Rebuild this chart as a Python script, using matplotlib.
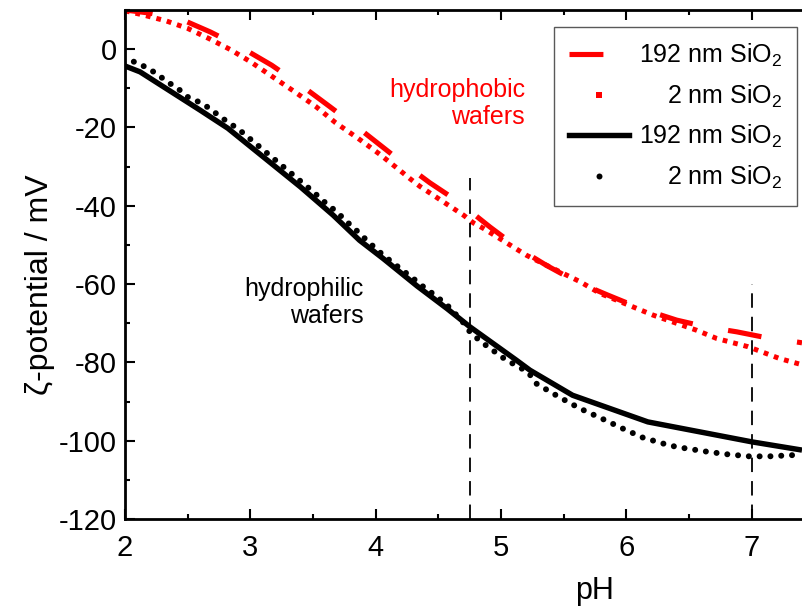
import matplotlib
matplotlib.use("Agg")
import matplotlib.pyplot as plt
from matplotlib.lines import Line2D
from matplotlib.ticker import MultipleLocator

plt.rcParams["font.family"] = ["Liberation Sans", "DejaVu Sans"]
plt.rcParams["mathtext.fontset"] = "custom"
plt.rcParams["mathtext.rm"] = "Liberation Sans"
plt.rcParams["mathtext.it"] = "Liberation Sans:italic"
plt.rcParams["axes.unicode_minus"] = False

# hydrophobic wafers (red)
ph_phob_192 = [2.0, 2.2, 2.465, 2.68, 2.94, 3.17, 3.42, 3.63, 3.9, 4.17, 4.43, 4.66,
               4.91, 5.14, 5.36, 5.6, 5.85, 6.11, 6.4, 6.63, 6.88, 7.1, 7.36, 7.4]
zeta_phob_192 = [10.0, 9.2, 7.4, 4.4, 0.2, -4.1, -9.6, -14.6, -21.1, -27.9, -34.1, -39.0,
                 -45.4, -50.9, -55.2, -59.4, -62.8, -66.2, -69.2, -70.9, -72.2, -73.6, -74.8, -75.0]

ph_phob_2 = [2.0, 2.15, 2.33, 2.5, 2.67, 2.84, 3.0, 3.17, 3.34, 3.52, 3.68, 3.86, 4.03,
             4.19, 4.27, 4.35, 4.7, 4.78, 4.86, 5.2, 5.28, 5.63, 5.79, 6.21, 6.29, 6.56,
             6.72, 6.97, 7.22, 7.32, 7.4]
zeta_phob_2 = [9.8, 8.7, 7.2, 5.3, 2.7, -0.1, -3.2, -6.9, -10.6, -14.6, -18.8, -22.8, -26.8,
               -30.9, -33.0, -35.0, -42.4, -44.4, -45.8, -52.6, -53.9, -59.4, -62.4, -67.9, -68.8, -71.8,
               -73.9, -76.0, -79.0, -79.9, -80.6]

# hydrophilic wafers (black)
ph_phil_192 = [2.0, 2.12, 2.6, 2.82, 3.4, 3.66, 3.87, 4.06, 4.33, 4.57, 4.75, 5.12, 5.23,
               5.57, 6.17, 7.0, 7.4]
zeta_phil_192 = [-4.3, -5.8, -15.6, -20.2, -35.2, -42.4, -48.8, -53.5, -60.5, -66.3, -70.9, -79.4, -82.0,
                 -88.4, -95.2, -100.3, -102.4]

ph_phil_2 = [2.07, 2.16, 2.25, 2.33, 2.42, 2.5, 2.59, 2.68, 2.76, 2.84, 2.93, 3.5, 3.59, 3.69,
             3.77, 3.86, 3.94, 4.03, 4.11, 4.21, 4.3, 4.38, 4.47, 4.57, 4.69, 4.76, 4.86, 4.95,
             5.04, 5.14, 5.22, 5.28, 5.46, 5.63, 5.8, 5.97, 6.13, 6.31, 6.4, 6.64, 6.81, 6.98,
             7.14, 7.32, 7.4]
zeta_phil_2 = [-3.2, -4.5, -6.2, -8.2, -10.0, -12.2, -13.5, -15.2, -17.3, -19.0, -21.1, -36.4, -39.0, -41.6,
               -44.1, -46.7, -49.2, -51.8, -53.9, -56.4, -58.6, -60.7, -62.8, -65.4, -69.5, -72.6, -75.2, -77.3,
               -79.4, -81.1, -82.7, -85.4, -88.8, -91.8, -94.3, -96.9, -99.2, -100.9, -101.6, -102.8, -103.5, -104.0,
               -104.0, -103.7, -103.6]

# dashed marker lines
vline_ph = [4.75, 7.0]
vline_top = [-33, -60]

legend_labels = ["192 nm SiO$_2$", "2 nm SiO$_2$", "192 nm SiO$_2$", "2 nm SiO$_2$"]

fig = plt.figure(figsize=(8.02, 6.07), dpi=100)
ax = fig.add_axes([0.1559, 0.145, 0.8441, 0.8385])

dash_red = (1.2, (6.6, 7.0))
ax.plot(ph_phob_2, zeta_phob_2, color="red", lw=3.6, ls=(0, (0.95, 1.2)),
        dash_capstyle="butt")
ax.plot(ph_phob_192, zeta_phob_192, color="red", lw=3.7, ls=dash_red,
        dash_capstyle="butt")
ax.plot(ph_phil_2, zeta_phil_2, color="black", lw=4.3, ls=(0, (0.01, 1.8)),
        dash_capstyle="round")
ax.plot(ph_phil_192, zeta_phil_192, color="black", lw=3.9, solid_capstyle="butt")

ax.vlines(vline_ph, -120, vline_top, colors="black", lw=1.3, linestyles=(0, (8, 5)))

ax.text(5.19, -13.8, "hydrophobic\nwafers", color="red", fontsize=18,
        ha="right", va="center", multialignment="right", linespacing=1.15)
ax.text(3.906, -64.7, "hydrophilic\nwafers", color="black", fontsize=18,
        ha="right", va="center", multialignment="right", linespacing=1.15)

ax.set_xlim(2, 7.4)
ax.set_ylim(-120, 10)
ax.xaxis.set_major_locator(MultipleLocator(1))
ax.xaxis.set_minor_locator(MultipleLocator(0.5))
ax.yaxis.set_major_locator(MultipleLocator(20))
ax.yaxis.set_minor_locator(MultipleLocator(10))
ax.tick_params(which="both", direction="in", top=True, right=False, width=1.5,
               labelsize=21)
ax.tick_params(which="major", length=7)
ax.tick_params(which="minor", length=3.6)
ax.tick_params(axis="x", pad=11)
ax.tick_params(axis="y", pad=6)
ax.spines["right"].set_visible(False)
for s in ("left", "bottom", "top"):
    ax.spines[s].set_linewidth(2.0)

ax.set_xlabel("pH", fontsize=22)
ax.set_ylabel("\u03b6-potential / mV", fontsize=23)
ax.xaxis.set_label_coords(0.694, -0.112)
ax.yaxis.set_label_coords(-0.103, 0.46)

handles = [
    Line2D([], [], color="red", lw=3.7, ls=(0, (6.6, 7.0)), dash_capstyle="butt"),
    Line2D([], [], color="red", ls="none", marker="s", ms=4.0, mew=0),
    Line2D([], [], color="black", lw=3.9),
    Line2D([], [], color="black", ls="none", marker="o", ms=4.3, mew=0),
]
leg = ax.legend(handles, legend_labels, loc="upper right", bbox_to_anchor=(0.993, 0.967),
                borderaxespad=0, fontsize=18, handlelength=2.4, handletextpad=0.4,
                borderpad=0.6, labelspacing=0.54, fancybox=False, framealpha=1)
leg.get_frame().set_edgecolor("0.35")
leg.get_frame().set_linewidth(1.0)

# right-align the legend texts like the original
fig.canvas.draw()
r = fig.canvas.get_renderer()
widths = [t.get_window_extent(r).width for t in leg.get_texts()]
wmax = max(widths)
for t, w in zip(leg.get_texts(), widths):
    t.set_position((wmax - w, 0))

fig.savefig("out.png", dpi=100)
